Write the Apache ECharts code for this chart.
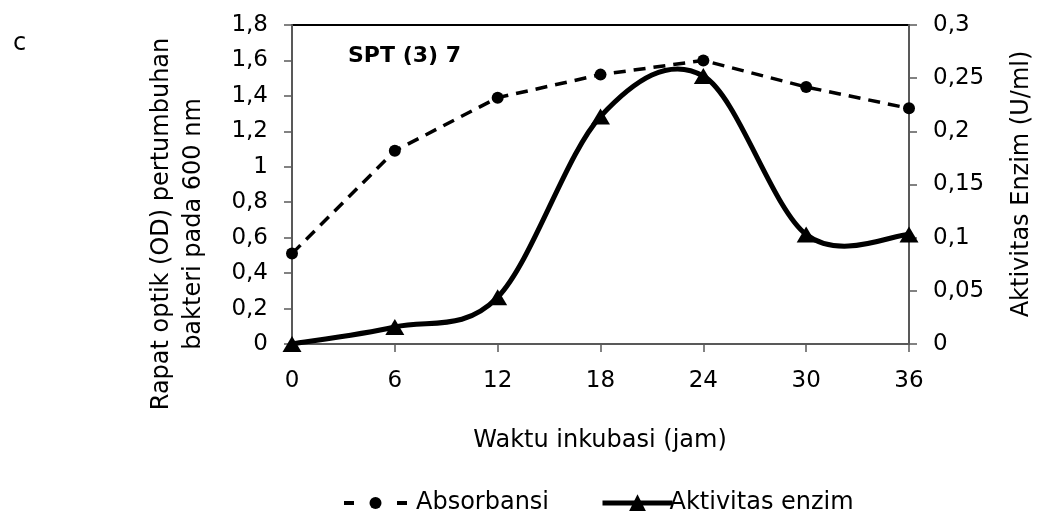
<!DOCTYPE html>
<html>
<head>
<meta charset="utf-8">
<title>SPT (3) 7</title>
<script src="https://cdn.jsdelivr.net/npm/echarts@6/dist/echarts.min.js"></script>
<style>
    html, body { margin: 0; padding: 0; background: #fff; }
    #chart { width: 1040px; height: 511px; }
</style>
</head>
<body>
<div id="chart"></div>
<script>
// waktu inkubasi (jam)
var hours = [0, 6, 12, 18, 24, 30, 36];
// rapat optik (OD) 600 nm
var absorbansi = [0.51, 1.09, 1.39, 1.52, 1.60, 1.45, 1.33];
// aktivitas enzim (U/ml)
var aktivitas = [0, 0.016, 0.044, 0.214, 0.252, 0.103, 0.103];

var seriesNames = ['Absorbansi', 'Aktivitas enzim'];
var chartTitle = 'SPT (3) 7';
var panelLabel = 'c';
var xName = 'Waktu inkubasi (jam)';
var yLeftName = ['Rapat optik (OD) pertumbuhan', 'bakteri pada 600 nm'];
var yRightName = 'Aktivitas Enzim (U/ml)';

var font = 'DejaVu Sans';
var axisGrey = '#595959';

function pairs(xs, ys) {
    var out = [];
    for (var i = 0; i < xs.length; i++) {
        out.push([xs[i], ys[i]]);
    }
    return out;
}

function comma(v) {
    return String(+v.toFixed(2)).replace('.', ',');
}

function valueAxis(opts) {
    return {
        type: 'value',
        position: opts.position,
        min: opts.min,
        max: opts.max,
        interval: opts.interval,
        axisLine: { show: true, lineStyle: { color: axisGrey, width: 2 } },
        axisTick: { show: true, inside: false, length: 8, lineStyle: { color: axisGrey, width: 1.5 } },
        axisLabel: {
            margin: opts.margin,
            color: '#000',
            fontFamily: font,
            fontSize: 23,
            formatter: comma
        },
        splitLine: { show: false }
    };
}

function rotatedText(text, x, y, size) {
    return {
        type: 'text',
        x: x,
        y: y,
        rotation: Math.PI / 2,
        style: {
            text: text,
            fill: '#000',
            font: size + 'px "' + font + '"',
            textAlign: 'center',
            textVerticalAlign: 'middle'
        }
    };
}

// Excel-like smoothed segment between point i and i+1 (control points at 1/6 of the neighbour span)
function smoothSegment(params, api) {
    var i = params.dataIndex;
    var n = hours.length;
    if (i >= n - 1) {
        return null;
    }
    var p = function (k) {
        k = Math.max(0, Math.min(n - 1, k));
        return api.coord([hours[k], aktivitas[k]]);
    };
    var p0 = p(i - 1), p1 = p(i), p2 = p(i + 1), p3 = p(i + 2);
    return {
        type: 'bezierCurve',
        shape: {
            x1: p1[0], y1: p1[1],
            x2: p2[0], y2: p2[1],
            cpx1: p1[0] + (p2[0] - p0[0]) / 6,
            cpy1: p1[1] + (p2[1] - p0[1]) / 6,
            cpx2: p2[0] - (p3[0] - p1[0]) / 6,
            cpy2: p2[1] - (p3[1] - p1[1]) / 6
        },
        style: { stroke: '#000', lineWidth: 5, fill: null, lineCap: 'round' }
    };
}

var myChart = echarts.init(document.getElementById('chart'), null, { renderer: 'canvas' });

var option = {
    backgroundColor: '#fff',
    animation: false,
    grid: {
        left: 292,
        right: 131,
        top: 25,
        bottom: 167,
        show: true,
        borderColor: '#000',
        borderWidth: 2
    },
    xAxis: valueAxis({ position: 'bottom', min: 0, max: 36, interval: 6, margin: 26 }),
    yAxis: [
        valueAxis({ position: 'left', min: 0, max: 1.8, interval: 0.2, margin: 24 }),
        valueAxis({ position: 'right', min: 0, max: 0.3, interval: 0.05, margin: 24 })
    ],
    legend: [{
        data: [seriesNames[0]],
        left: 337,
        top: 486,
        itemWidth: 63,
        itemHeight: 15,
        lineStyle: { type: [10, 43], width: 4, color: '#000', opacity: 1 },
        textStyle: { color: '#000', fontFamily: font, fontSize: 24, padding: [0, 0, 0, 4] },
        selectedMode: false
    }, {
        data: [seriesNames[1]],
        left: 595,
        top: 486,
        itemWidth: 70,
        itemHeight: 22,
        lineStyle: { type: 'solid', width: 5, color: '#000', opacity: 1 },
        textStyle: { color: '#000', fontFamily: font, fontSize: 24, padding: [0, 0, 0, -8] },
        selectedMode: false
    }],
    graphic: [
        {
            type: 'text',
            left: 13,
            top: 32,
            style: { text: panelLabel, fill: '#000', font: '24px "' + font + '"' }
        },
        {
            type: 'text',
            x: 348,
            y: 56,
            style: {
                text: chartTitle,
                fill: '#000',
                font: 'bold 22px "' + font + '"',
                textAlign: 'left',
                textVerticalAlign: 'middle'
            }
        },
        {
            type: 'text',
            x: 600,
            y: 441,
            style: {
                text: xName,
                fill: '#000',
                font: '24px "' + font + '"',
                textAlign: 'center',
                textVerticalAlign: 'middle'
            }
        },
        rotatedText(yLeftName[0], 162, 224, 24),
        rotatedText(yLeftName[1], 194, 224, 24),
        rotatedText(yRightName, 1022, 184, 24)
    ],
    series: [{
        name: seriesNames[0],
        type: 'line',
        yAxisIndex: 0,
        data: pairs(hours, absorbansi),
        symbol: 'circle',
        symbolSize: 12,
        itemStyle: { color: '#000' },
        lineStyle: { color: '#000', width: 3.5, type: [12, 8] },
        z: 4
    }, {
        name: seriesNames[1],
        type: 'line',
        yAxisIndex: 1,
        data: pairs(hours, aktivitas),
        symbol: 'triangle',
        symbolSize: [19, 16],
        itemStyle: { color: '#000' },
        lineStyle: { color: '#000', width: 5, opacity: 0 },
        z: 3
    }, {
        name: 'kurva',
        type: 'custom',
        coordinateSystem: 'cartesian2d',
        yAxisIndex: 1,
        data: pairs(hours, aktivitas),
        encode: { x: 0, y: 1 },
        renderItem: smoothSegment,
        silent: true,
        z: 2
    }]
};

myChart.setOption(option, true);
</script>
</body>
</html>
